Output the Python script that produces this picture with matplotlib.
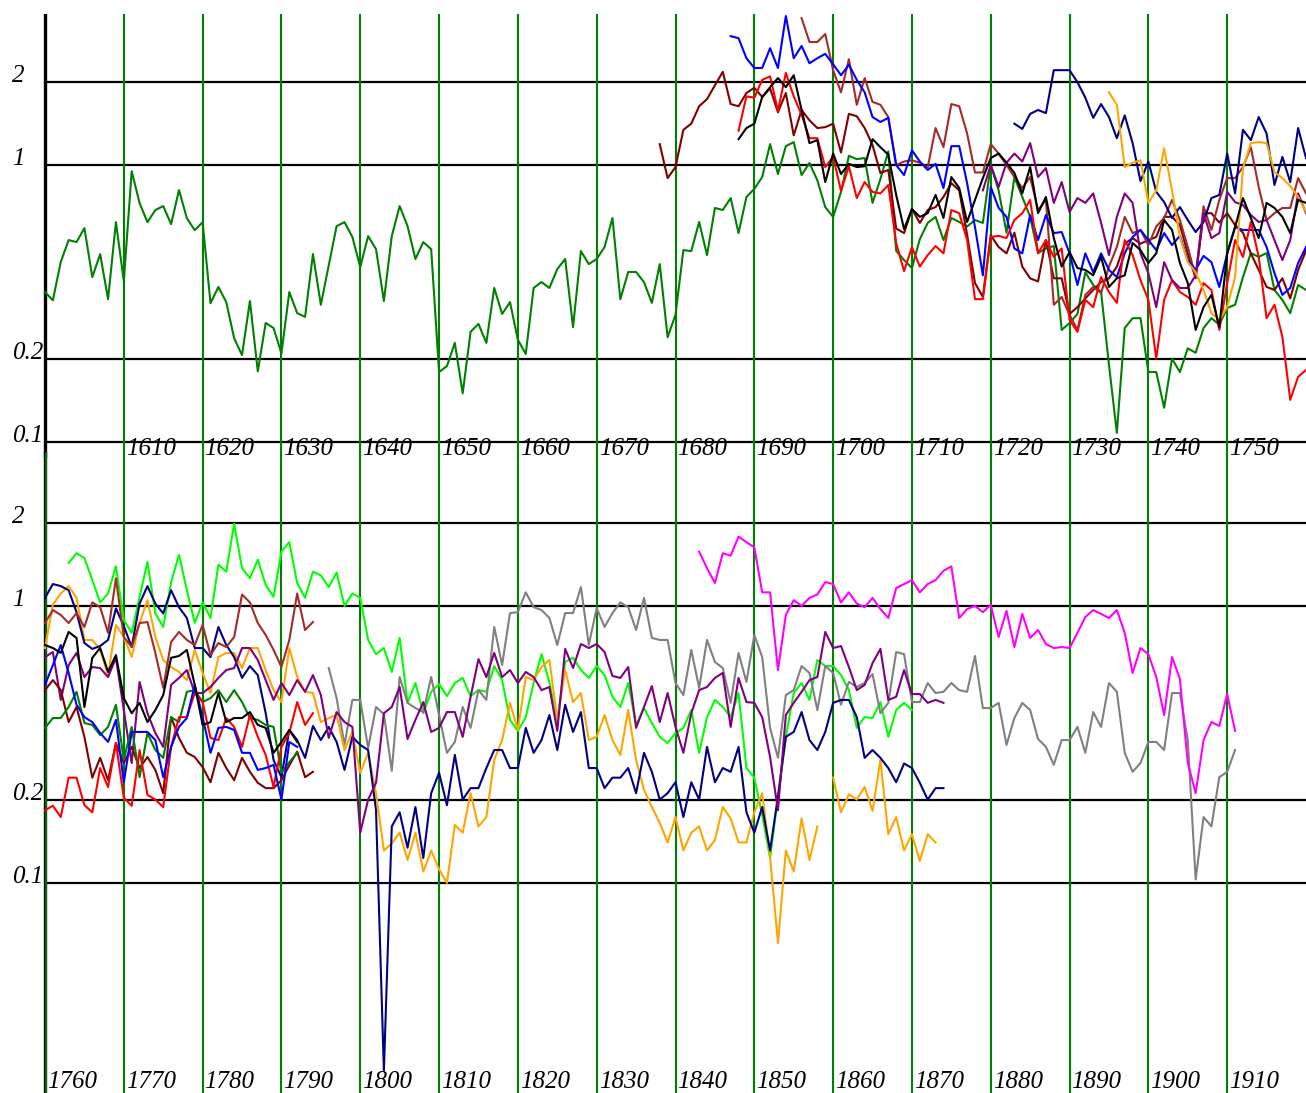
import numpy as np
import matplotlib
matplotlib.use("Agg")
from matplotlib import pyplot as plt
from matplotlib import transforms

# ---------- upper panel, 1600-1760 ----------
top_green_start = 1600
top_green = [0.348, 0.325, 0.447, 0.536, 0.527, 0.592, 0.394, 0.477, 0.328, 0.622,
             0.381, 0.95, 0.729, 0.622, 0.688, 0.711, 0.612, 0.812, 0.643, 0.582,
             0.622, 0.317, 0.363, 0.320, 0.237, 0.206, 0.323, 0.180, 0.269, 0.258,
             0.209, 0.348, 0.292, 0.283, 0.477, 0.313, 0.435, 0.602, 0.622, 0.55,
             0.428, 0.554, 0.497, 0.323, 0.554, 0.711, 0.602, 0.458, 0.527, 0.497,
             0.179, 0.188, 0.228, 0.150, 0.250, 0.267, 0.228, 0.360, 0.290, 0.320,
             0.234, 0.208, 0.360, 0.378, 0.360, 0.421, 0.458, 0.260, 0.489, 0.439,
             0.458, 0.506, 0.644, 0.328, 0.411, 0.411, 0.378, 0.318, 0.439, 0.239,
             0.288, 0.493, 0.489, 0.623, 0.473, 0.70, 0.688, 0.76, 0.568, 0.767,
             0.82, 0.905, 1.19, 0.928, 1.17, 1.21, 0.92, 1.017, 0.88, 0.705,
             0.65, 0.80, 1.08, 1.05, 1.06, 0.73, 0.89, 1.12, 0.49, 0.454,
             0.425, 0.54, 0.618, 0.65, 0.536, 0.644, 0.623, 0.60, 0.633, 0.618,
             1.0, 0.81, 0.57, 0.905, 0.767, 0.65, 0.481, 0.50, 0.51, 0.254,
             0.269, 0.29, 0.41, 0.369, 0.348, 0.19, 0.108, 0.258, 0.28, 0.28,
             0.179, 0.179, 0.133, 0.20, 0.179, 0.218, 0.21, 0.258, 0.28, 0.265,
             0.305, 0.313, 0.394, 0.481, 0.466, 0.481, 0.354, 0.326, 0.292, 0.369,
             0.354]

top_maroon_start = 1678
top_maroon = [1.19, 0.897, 0.983, 1.34, 1.41, 1.63, 1.73, 1.94, 2.17, 1.66,
              1.63, 1.82, 1.90, 1.76, 1.89, 1.55, 1.82, 1.28, 1.58, 1.45,
              1.36, 1.37, 1.41, 1.11, 1.53, 1.50, 1.36, 1.18, 0.936, 0.96,
              0.59, 0.568, 0.694, 0.618, 0.688, 0.705, 0.767, 0.86, 0.81, 0.56,
              0.375, 0.334, 0.558, 0.506, 0.48, 0.57, 0.43, 0.39, 0.38, 0.536,
              0.39, 0.39, 0.29, 0.307, 0.33, 0.354, 0.378, 0.39, 0.43, 0.52,
              0.545, 0.52, 0.536, 0.55, 0.65, 0.65, 0.607, 0.48, 0.39, 0.67,
              0.67, 0.62, 0.67, 0.607, 0.57, 0.48, 0.418, 0.363, 0.354, 0.39,
              0.33, 0.418, 0.49]

top_brown_start = 1696
top_brown = [3.39, 2.78, 2.78, 2.97, 2.20, 1.83, 2.41, 1.65, 2.06, 1.69,
             1.65, 1.49, 1.0, 1.03, 1.04, 1.02, 0.98, 1.36, 1.16, 1.66,
             1.63, 1.30, 0.94, 0.94, 1.19, 1.10, 1.0, 0.905, 0.826, 0.905,
             0.688, 0.748, 0.313, 0.334, 0.288, 0.254, 0.34, 0.363, 0.345, 0.43,
             0.506, 0.65, 0.568, 0.583, 0.514, 0.60, 0.644, 0.748, 0.633, 0.506,
             0.394, 0.71, 0.583, 0.748, 0.897, 0.897, 0.983, 1.16, 0.833, 0.633,
             0.67, 0.70, 0.70, 0.897, 0.79]

top_blue_start = 1687
top_blue = [2.92, 2.87, 2.43, 2.24, 2.24, 2.64, 2.24, 3.45, 2.43, 2.69,
            2.33, 2.43, 2.52, 2.31, 2.11, 2.30, 2.03, 1.83, 1.49, 1.43,
            1.48, 1.0, 0.92, 1.13, 1.03, 0.96, 1.01, 0.826, 1.17, 1.17,
            0.86, 0.597, 0.40, 0.833, 0.70, 0.65, 0.50, 0.48, 0.66, 0.536,
            0.66, 0.568, 0.573, 0.48, 0.369, 0.48, 0.41, 0.48, 0.418, 0.394,
            0.48, 0.55, 0.583, 0.536, 0.493, 0.568, 0.514, 0.555, 0.454, 0.418,
            0.47, 0.446, 0.363, 0.48, 0.597, 0.583, 0.583, 0.583, 0.506, 0.407,
            0.34, 0.36, 0.443, 0.506]

top_red_start = 1688
top_red = [1.33, 1.77, 1.75, 2.03, 2.09, 1.57, 2.15, 1.77, 1.52, 1.25,
           1.25, 0.983, 1.07, 0.806, 0.99, 0.76, 0.868, 0.80, 0.79, 0.847,
           0.523, 0.414, 0.506, 0.43, 0.473, 0.51, 0.48, 0.688, 0.67, 0.536,
           0.328, 0.328, 0.55, 0.555, 0.545, 0.633, 0.67, 0.748, 0.48, 0.536,
           0.466, 0.50, 0.276, 0.25, 0.326, 0.307, 0.394, 0.348, 0.318, 0.536,
           0.473, 0.384, 0.326, 0.20, 0.326, 0.384, 0.348, 0.334, 0.313, 0.375,
           0.354, 0.254, 0.375, 0.536, 0.466, 0.623, 0.466, 0.28, 0.313, 0.24,
           0.142, 0.172, 0.182]

top_black_start = 1688
top_black = [1.24, 1.36, 1.41, 1.76, 1.91, 2.06, 1.91, 2.11, 1.58, 1.20,
             1.23, 0.868, 1.10, 0.928, 1.01, 0.983, 0.99, 1.24, 1.16, 1.09,
             0.78, 0.587, 0.694, 0.65, 0.67, 0.78, 0.644, 0.905, 0.826, 0.623,
             0.748, 0.897, 1.06, 1.10, 1.02, 0.936, 0.79, 0.983, 0.67, 0.767,
             0.545, 0.43, 0.485, 0.425, 0.418, 0.40, 0.466, 0.363, 0.39, 0.40,
             0.523, 0.493, 0.443, 0.48, 0.633, 0.583, 0.443, 0.375, 0.254, 0.307,
             0.34, 0.26, 0.48, 0.597, 0.76, 0.644, 0.545, 0.73, 0.70, 0.65,
             0.568, 0.748, 0.73]

top_navy_start = 1723
top_navy = [1.41, 1.35, 1.53, 1.58, 1.54, 2.20, 2.20, 2.20, 1.99, 1.75,
            1.48, 1.66, 1.49, 1.25, 1.51, 1.20, 0.875, 1.03, 0.80, 0.735,
            0.644, 0.705, 0.633, 0.573, 0.623, 0.76, 0.78, 1.10, 0.79, 1.34,
            1.23, 1.49, 1.30, 0.847, 1.07, 0.868, 1.36, 1.06]

top_purple_start = 1719
top_purple = [0.81, 1.0, 0.833, 1.02, 1.10, 1.03, 1.20, 0.905, 0.975, 0.73,
              0.868, 0.677, 0.76, 0.73, 0.79, 0.618, 0.473, 0.65, 0.79, 0.73,
              0.48, 0.407, 0.307, 0.446, 0.384, 0.36, 0.36, 0.40, 0.67, 0.545,
              0.568, 0.80, 0.735, 0.717, 0.66, 0.623, 0.633, 0.536, 0.454, 0.536,
              0.79, 0.67]

top_orange_start = 1735
top_orange = [1.83, 1.65, 0.983, 1.02, 1.04, 0.73, 0.81, 1.15, 0.81, 0.55,
              0.446, 0.41, 0.354, 0.292, 0.276, 0.307, 0.394, 0.975, 1.20, 1.21,
              1.20, 0.943, 0.897, 0.84, 0.767, 0.677]

# ---------- lower panel, 1760-1920 ----------
bot_lime_start = 1763
bot_lime = [1.43, 1.55, 1.49, 1.24, 1.03, 1.11, 1.39, 0.89, 0.80, 1.08,
            1.44, 0.94, 0.84, 1.22, 1.53, 1.14, 0.87, 1.03, 0.905, 1.41,
            1.33, 1.98, 1.37, 1.26, 1.47, 1.19, 1.08, 1.57, 1.70, 1.21,
            1.07, 1.33, 1.29, 1.17, 1.32, 1.0, 1.11, 1.07, 0.754, 0.67,
            0.705, 0.578, 0.767, 0.447, 0.527, 0.41, 0.49, 0.523, 0.473, 0.527,
            0.55, 0.473, 0.497, 0.49, 0.607, 0.54, 0.388, 0.354, 0.397, 0.527,
            0.67, 0.53, 0.381, 0.628, 0.65, 0.587, 0.55, 0.607, 0.563, 0.47,
            0.432, 0.527, 0.372, 0.428, 0.378, 0.337, 0.32, 0.348, 0.363, 0.421,
            0.295, 0.397, 0.458, 0.432, 0.397, 0.485, 0.26, 0.24, 0.176, 0.123,
            0.205, 0.337, 0.485, 0.527, 0.458, 0.638, 0.607, 0.607, 0.563, 0.497,
            0.363, 0.397, 0.394, 0.45, 0.337, 0.421, 0.447, 0.421]

bot_navy_start = 1760
bot_navy = [1.07, 1.20, 1.18, 1.14, 0.95, 0.735, 0.70, 0.717, 0.754, 0.98,
            0.847, 0.711, 1.02, 1.18, 1.02, 0.94, 1.14, 0.99, 0.905, 0.705,
            0.705, 0.654, 0.84, 0.723, 0.654, 0.55, 0.607, 0.563, 0.41, 0.278,
            0.241, 0.357, 0.328, 0.283, 0.369, 0.328, 0.366, 0.323, 0.256, 0.337,
            0.315, 0.302, 0.183, 0.021, 0.16, 0.18, 0.134, 0.188, 0.123, 0.211,
            0.25, 0.191, 0.29, 0.20, 0.22, 0.22, 0.26, 0.302, 0.302, 0.26,
            0.26, 0.363, 0.295, 0.328, 0.404, 0.302, 0.44, 0.351, 0.414, 0.26,
            0.26, 0.22, 0.24, 0.24, 0.26, 0.211, 0.295, 0.252, 0.20, 0.211,
            0.231, 0.173, 0.231, 0.20, 0.31, 0.231, 0.26, 0.252, 0.31, 0.18,
            0.152, 0.188, 0.131, 0.205, 0.337, 0.351, 0.414, 0.328, 0.302, 0.351,
            0.447, 0.458, 0.458, 0.397, 0.283, 0.302, 0.283, 0.26, 0.231, 0.27,
            0.26, 0.23, 0.20, 0.22, 0.22]

bot_orange_start = 1760
bot_orange = [0.705, 1.01, 1.11, 1.18, 1.07, 0.754, 0.754, 0.694, 0.563, 0.854,
              0.773, 0.654, 0.868, 1.05, 0.773, 0.638, 0.602, 0.578, 0.54, 0.694,
              0.573, 0.485, 0.654, 0.677, 0.677, 0.597, 0.705, 0.705, 0.587, 0.497,
              0.45, 0.705, 0.554, 0.49, 0.485, 0.381, 0.394, 0.404, 0.302, 0.351,
              0.25, 0.295, 0.211, 0.131, 0.139, 0.152, 0.121, 0.152, 0.11, 0.131,
              0.112, 0.10, 0.162, 0.152, 0.211, 0.16, 0.173, 0.278, 0.328, 0.447,
              0.357, 0.554, 0.54, 0.602, 0.638, 0.388, 0.587, 0.45, 0.485, 0.328,
              0.337, 0.404, 0.328, 0.29, 0.421, 0.278, 0.217, 0.188, 0.165, 0.14,
              0.173, 0.131, 0.152, 0.16, 0.131, 0.143, 0.188, 0.171, 0.14, 0.14,
              0.18, 0.211, 0.124, 0.0607, 0.131, 0.11, 0.171, 0.121, 0.16, None,
              0.24, 0.18, 0.209, 0.20, 0.222, 0.182, 0.278, 0.15, 0.173, 0.131,
              0.15, 0.12, 0.15, 0.14]

bot_purple_start = 1760
bot_purple = [0.654, 0.682, 0.458, 0.612, 0.677, 0.554, 0.602, 0.597, 0.554, 0.65,
              0.421, 0.271, 0.532, 0.41, 0.348, 0.31, 0.519, 0.55, 0.587, 0.485,
              0.485, 0.51, 0.55, 0.587, 0.597, 0.705, 0.705, 0.638, 0.54, 0.458,
              0.527, 0.477, 0.54, 0.49, 0.563, 0.477, 0.334, 0.414, 0.381, 0.366,
              0.152, 0.20, 0.23, 0.41, 0.432, 0.51, 0.331, 0.388, 0.45, 0.351,
              0.363, 0.414, 0.414, 0.337, 0.47, 0.643, 0.554, 0.677, 0.554, 0.587,
              0.527, 0.578, 0.554, 0.497, 0.51, 0.354, 0.70, 0.597, 0.729, 0.705,
              0.729, 0.682, 0.559, 0.55, 0.602, 0.363, 0.432, 0.514, 0.381, 0.485,
              0.366, 0.295, 0.41, 0.497, 0.51, 0.55, 0.573, 0.366, 0.55, 0.45,
              0.447, 0.397, 0.285, 0.183, 0.404, 0.447, 0.49, 0.54, 0.554, 0.806,
              0.705, 0.717, 0.602, 0.497, 0.519, 0.622, 0.70, 0.458, 0.47, 0.587,
              0.481, 0.481, 0.447, 0.458, 0.447]

bot_gray_start = 1796
bot_gray = [0.597, 0.465, 0.315, 0.458, 0.458, 0.307, 0.432, 0.407, 0.254, 0.554,
            0.447, 0.428, 0.414, 0.554, 0.404, 0.295, 0.323, 0.432, 0.363, 0.497,
            0.458, 0.84, 0.612, 0.943, 0.95, 1.12, 0.99, 0.967, 0.905, 0.723,
            0.943, 0.943, 1.17, 0.723, 0.983, 0.84, 0.943, 1.03, 0.99, 0.819,
            1.07, 0.767, 0.754, 0.754, 0.527, 0.477, 0.694, 0.506, 0.754, 0.628,
            0.597, 0.447, 0.677, 0.532, 0.786, 0.654, 0.363, 0.283, 0.477, 0.497,
            0.607, 0.573, 0.421, 0.607, 0.573, 0.44, 0.532, 0.51, 0.527, 0.568,
            0.41, 0.447, 0.682, 0.67, 0.45, 0.45, 0.527, 0.485, 0.49, 0.527,
            0.497, 0.49, 0.66, 0.428, 0.428, 0.447, 0.315, 0.394, 0.447, 0.421,
            0.331, 0.31, 0.267, 0.328, 0.328, 0.366, 0.295, 0.414, 0.366, 0.527,
            0.49, 0.295, 0.252, 0.271, 0.323, 0.323, 0.302, 0.485, 0.485, 0.328,
            0.103, 0.173, 0.16, 0.241, 0.252, 0.302]

bot_magenta_start = 1843
bot_magenta = [1.57, 1.37, 1.21, 1.55, 1.52, 1.78, 1.70, 1.63, 1.12, 1.12,
               0.587, 0.928, 1.05, 1.0, 1.07, 1.10, 1.22, 1.20, 1.03, 1.12,
               1.02, 0.99, 1.07, 0.975, 0.905, 1.16, 1.20, 1.24, 1.12, 1.20,
               1.24, 1.34, 1.39, 0.905, 0.975, 1.0, 0.95, 1.01, 0.773, 0.96,
               0.711, 0.936, 0.767, 0.819, 0.729, 0.705, 0.711, 0.705, 0.80, 0.912,
               0.967, 0.936, 0.905, 0.967, 0.80, 0.573, 0.705, 0.67, 0.554, 0.404,
               0.654, 0.545, 0.271, 0.211, 0.328, 0.381, 0.369, 0.481, 0.354]

bot_brown_start = 1760
bot_brown = [0.868, 0.967, 0.928, 0.868, 0.943, 0.84, 1.03, 0.99, 0.80, 1.26,
             0.773, 0.711, 0.868, 0.875, 0.677, 0.506, 0.741, 0.806, 0.754, 0.723,
             0.854, 0.665, 0.735, 0.711, 0.773, 1.10, 1.03, 0.868, 0.786, 0.694,
             0.602, 0.754, 1.11, 0.819, 0.875]

bot_maroon_start = 1760
bot_maroon = [0.497, 0.54, 0.497, 0.381, 0.432, 0.337, 0.24, 0.283, 0.235, 0.32,
              0.271, 0.31, 0.26, 0.285, 0.256, 0.211, 0.397, 0.334, 0.295, 0.285,
              0.262, 0.231, 0.295, 0.26, 0.235, 0.283, 0.252, 0.23, 0.22, 0.22,
              0.235, 0.266, 0.298, 0.241, 0.252]

bot_black_start = 1760
bot_black = [0.723, 0.705, 0.677, 0.806, 0.767, 0.432, 0.65, 0.705, 0.578, 0.665,
             0.465, 0.41, 0.447, 0.381, 0.421, 0.477, 0.65, 0.66, 0.694, 0.519,
             0.372, 0.381, 0.485, 0.381, 0.394, 0.394, 0.414, 0.372, 0.363, 0.295,
             0.323, 0.357, 0.323]

bot_blue_start = 1760
bot_blue = [0.519, 0.612, 0.723, 0.573, 0.44, 0.397, 0.381, 0.348, 0.323, 0.388,
            0.231, 0.351, 0.351, 0.351, 0.328, 0.241, 0.31, 0.366, 0.394, 0.519,
            0.397, 0.295, 0.363, 0.366, 0.357, 0.295, 0.295, 0.256, 0.26, 0.267,
            0.20, 0.323, 0.31]

bot_red_start = 1760
bot_red = [0.183, 0.19, 0.173, 0.24, 0.24, 0.191, 0.18, 0.26, 0.222, 0.32,
           0.203, 0.19, 0.302, 0.208, 0.20, 0.188, 0.31, 0.397, 0.397, 0.485,
           0.45, 0.334, 0.328, 0.394, 0.366, 0.31, 0.404, 0.337, 0.29, 0.222,
           0.31, 0.348, 0.45, 0.372, 0.41]

bot_green_start = 1760
bot_green = [0.363, 0.394, 0.394, 0.432, 0.49, 0.378, 0.372, 0.342, 0.366, 0.44,
             0.278, 0.366, 0.241, 0.348, 0.302, 0.283, 0.397, 0.381, 0.49, 0.497,
             0.45, 0.465, 0.497, 0.45, 0.497, 0.45, 0.394, 0.388, 0.372, 0.366,
             0.25, 0.273, 0.295]

guide_values = [0.1, 0.2, 1, 2]
guide_labels = ["0.1", "0.2", "1", "2"]

top_series = [
    (top_green_start, top_green, "green"),
    (top_maroon_start, top_maroon, "maroon"),
    (top_brown_start, top_brown, "brown"),
    (top_blue_start, top_blue, "blue"),
    (top_red_start, top_red, "red"),
    (top_navy_start, top_navy, "navy"),
    (top_purple_start, top_purple, "purple"),
    (top_orange_start, top_orange, "orange"),
    (top_black_start, top_black, "black"),
]
bot_series = [
    (bot_lime_start, bot_lime, "lime"),
    (bot_gray_start, bot_gray, "gray"),
    (bot_magenta_start, bot_magenta, "magenta"),
    (bot_orange_start, bot_orange, "orange"),
    (bot_navy_start, bot_navy, "navy"),
    (bot_purple_start, bot_purple, "purple"),
    (bot_brown_start, bot_brown, "brown"),
    (bot_maroon_start, bot_maroon, "maroon"),
    (bot_green_start, bot_green, "green"),
    (bot_red_start, bot_red, "red"),
    (bot_blue_start, bot_blue, "blue"),
    (bot_black_start, bot_black, "black"),
]

W, H = 1306, 1093
fig = plt.figure(figsize=(W / 100, H / 100), dpi=100)
font = dict(family="Liberation Serif", style="italic", size=18)

px_year = 7.88


def make_panel(y_top, y_bot, v_top, v_bot, x0, series, label_base, left_color):
    left = 45 - 0.3 * px_year
    ax = fig.add_axes([left / W, 1 - y_bot / H, (W - left) / W, (y_bot - y_top) / H])
    ax.set_facecolor("none")
    ax.set_yscale("log")
    ax.set_xlim(x0 - 0.3, x0 + 160)
    ax.set_ylim(v_bot, v_top)
    ax.axis("off")
    for v in guide_values:
        ax.hlines(v, x0, x0 + 160, color="black", lw=1.6, zorder=1)
    for yr in range(x0 + 10, x0 + 160, 10):
        ax.axvline(yr, color="green", lw=1.5, zorder=1)
    ax.axvline(x0, color="black", lw=2.4, zorder=1)
    if left_color != "black":
        ax.axvline(x0 + 0.1, color=left_color, lw=1.2, zorder=1)
    for start, vals, col in series:
        yrs = np.arange(start, start + len(vals))
        ax.plot(yrs, np.array(vals, dtype=float), color=col, lw=1.5, zorder=3)
    tr = transforms.blended_transform_factory(fig.transFigure, ax.transData)
    for v, lab in zip(guide_values, guide_labels):
        ax.text(12 / W, v, lab, transform=tr, ha="left", va="baseline", **font)
    first = x0 if label_base else x0 + 10
    for yr in range(first, x0 + 160, 10):
        ax.text(yr + 0.25, label_base if label_base else 0.0899, str(yr),
                ha="left", va="baseline", zorder=4, **font)
    return ax


make_panel(14, 458, 3.509, 0.0876, 1600, top_series, None, "black")
make_panel(452, 1093, 3.597, 0.01745, 1760, bot_series, 0.0182, "green")

fig.savefig("out.png", dpi=100)
